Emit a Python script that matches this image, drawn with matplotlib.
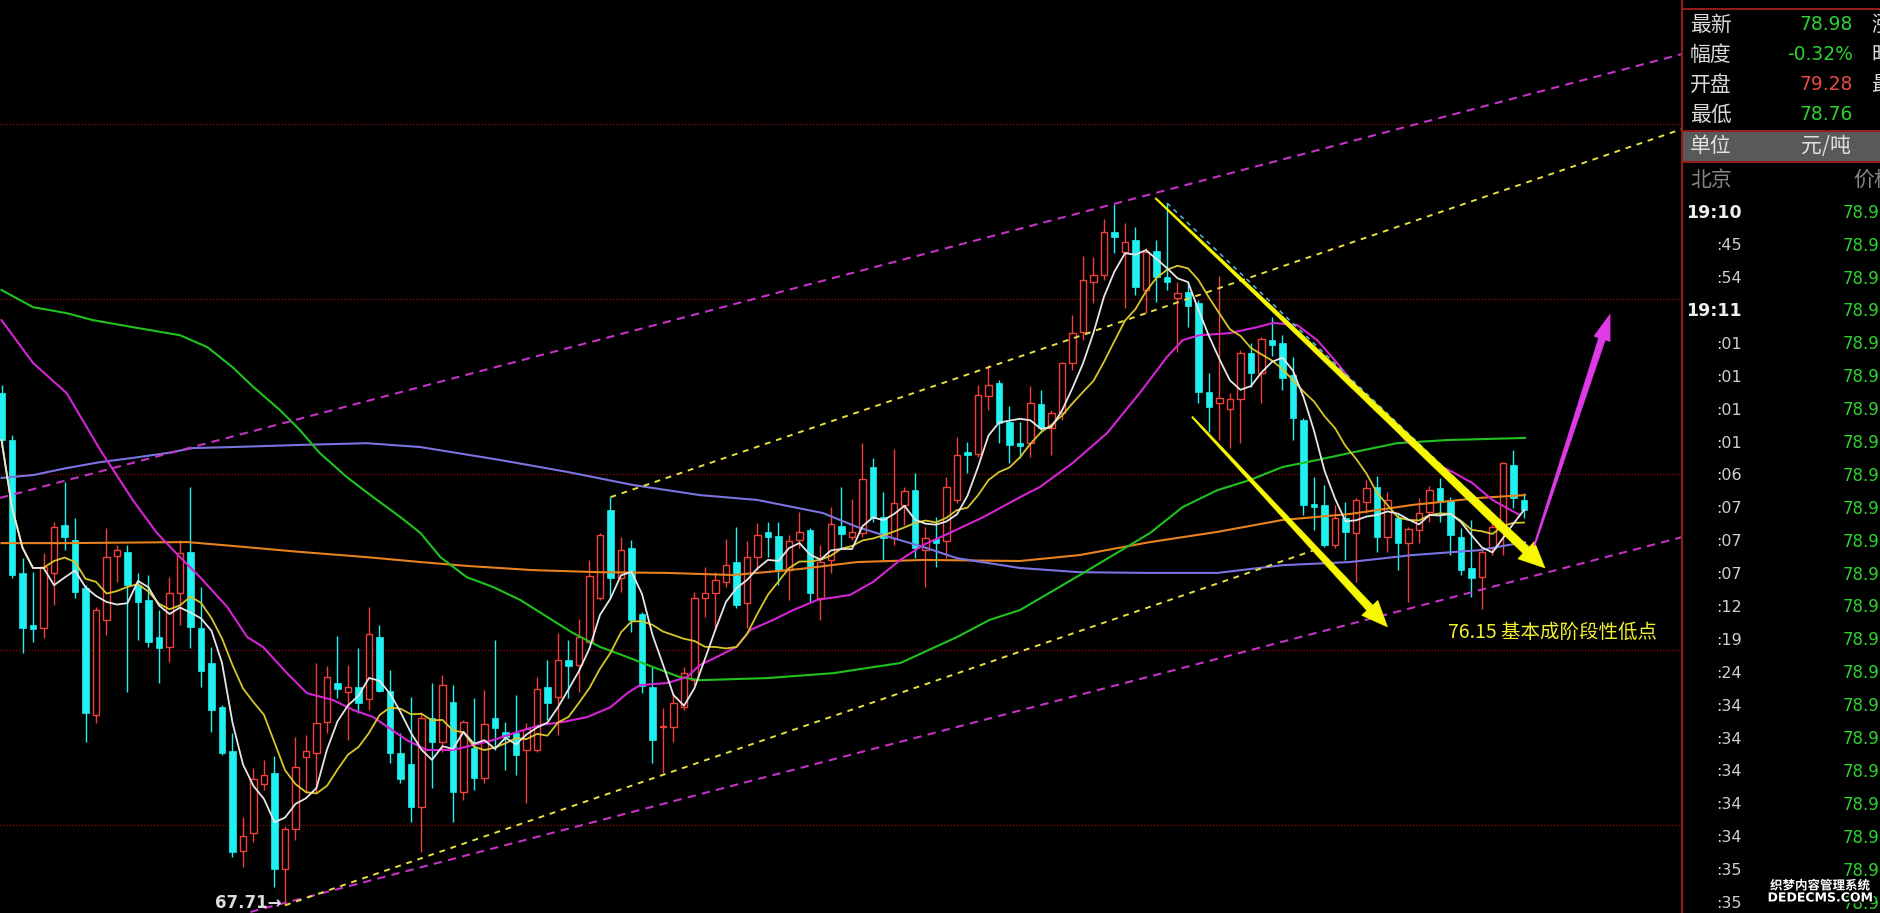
import matplotlib
matplotlib.use("Agg")
import matplotlib.pyplot as plt
import matplotlib.patheffects as pe
from matplotlib.patches import Rectangle, Polygon
import numpy as np
import pandas as pd

plt.rcParams["font.family"] = ["Noto Sans CJK SC", "DejaVu Sans"]

# ---- candle data ----
opens = [82.32, 80.98, 77.19, 75.70, 75.62, 77.19, 78.56, 78.13, 76.76, 73.14,
         75.85, 77.67, 77.79, 76.84, 76.42, 75.36, 75.08, 76.62, 77.79, 75.62,
         74.62, 73.36, 72.11, 69.26, 69.77, 71.17, 71.48, 68.74, 69.88, 71.94,
         72.05, 72.94, 74.05, 73.79, 73.94, 73.59, 75.36, 73.82, 72.05, 71.74,
         70.51, 73.05, 72.37, 73.51, 70.94, 72.20, 71.34, 73.05, 72.65, 72.62,
         72.14, 72.14, 73.94, 73.65, 74.71, 74.56, 75.22, 76.47, 78.98, 77.04,
         77.90, 76.02, 73.94, 72.79, 72.79, 73.36, 74.13, 76.47, 76.62, 76.93,
         77.50, 76.33, 77.64, 78.36, 78.24, 77.27, 78.13, 78.41, 76.47, 77.56,
         78.53, 78.21, 78.33, 80.21, 78.78, 78.18, 79.13, 79.55, 77.84, 78.16,
         78.10, 79.27, 80.64, 80.58, 82.23, 82.61, 81.50, 80.89, 80.89, 82.01,
         81.32, 81.75, 83.18, 84.06, 85.49, 85.69, 86.91, 86.34, 86.68, 85.26,
         86.37, 85.63, 85.03, 85.20, 84.89, 82.35, 82.04, 81.86, 82.15, 83.46,
         82.89, 83.83, 83.75, 82.83, 81.55, 79.15, 79.13, 77.99, 78.76, 78.33,
         79.21, 79.64, 78.21, 78.76, 78.04, 78.41, 78.93, 79.61, 79.27, 78.21,
         77.33, 77.07, 77.90, 78.56, 80.27, 79.28]
highs = [82.55, 81.12, 77.61, 77.22, 77.76, 78.64, 79.78, 78.76, 76.84, 76.22,
         78.47, 77.99, 77.99, 77.19, 77.13, 76.13, 77.07, 78.13, 79.64, 76.79,
         75.08, 73.42, 72.62, 70.23, 71.62, 71.85, 71.97, 69.97, 72.51, 72.57,
         74.62, 74.53, 75.39, 74.56, 75.05, 76.22, 75.70, 74.42, 72.62, 73.65,
         73.22, 74.05, 74.28, 73.99, 72.99, 73.62, 73.85, 75.28, 72.94, 73.71,
         72.91, 74.22, 74.71, 75.48, 75.28, 75.87, 77.56, 78.33, 79.35, 78.21,
         78.13, 76.07, 74.51, 73.34, 73.76, 74.51, 76.64, 77.36, 77.22, 78.16,
         78.50, 78.10, 78.61, 78.64, 78.64, 78.27, 78.93, 78.47, 77.99, 79.07,
         79.64, 79.30, 80.89, 80.47, 79.50, 80.72, 79.64, 80.04, 78.50, 78.78,
         79.93, 81.07, 80.92, 82.55, 83.12, 82.69, 81.95, 81.50, 82.52, 82.41,
         81.84, 83.21, 84.55, 86.23, 86.20, 87.28, 87.71, 87.17, 87.06, 86.46,
         86.68, 87.74, 85.49, 85.49, 84.97, 82.89, 85.66, 82.32, 83.55, 83.75,
         83.92, 84.49, 83.98, 83.35, 81.61, 79.93, 79.70, 79.13, 79.21, 79.33,
         79.84, 79.95, 79.50, 78.90, 78.50, 79.33, 79.67, 79.90, 79.35, 78.47,
         78.70, 77.84, 78.64, 80.35, 80.70, 79.47]
lows = [80.84, 77.04, 74.90, 75.22, 75.33, 76.27, 77.84, 76.47, 72.37, 72.91,
        75.42, 76.93, 73.79, 75.28, 75.08, 74.05, 74.65, 75.70, 75.05, 73.94,
        72.65, 72.00, 69.09, 68.80, 69.51, 71.00, 68.23, 67.71, 69.57, 70.91,
        70.91, 72.62, 73.62, 72.42, 73.19, 73.28, 73.79, 71.77, 71.20, 70.08,
        69.23, 71.05, 72.08, 70.08, 70.71, 71.00, 71.20, 72.14, 71.57, 71.43,
        70.63, 72.08, 72.99, 72.57, 73.62, 73.79, 75.19, 76.42, 76.47, 76.64,
        75.50, 73.76, 71.77, 71.48, 72.37, 73.28, 73.99, 75.93, 75.56, 76.79,
        76.19, 75.62, 77.27, 77.64, 76.84, 76.42, 77.90, 76.36, 75.85, 77.19,
        77.90, 78.13, 78.21, 78.64, 77.56, 77.99, 78.56, 77.61, 76.79, 77.36,
        77.61, 79.18, 80.04, 80.50, 81.84, 80.89, 80.32, 80.47, 80.50, 81.18,
        80.55, 81.55, 82.98, 83.83, 84.89, 85.54, 86.31, 84.75, 85.12, 84.60,
        84.92, 85.26, 83.49, 84.20, 82.04, 81.21, 80.98, 80.75, 80.89, 82.49,
        82.04, 83.38, 82.41, 80.98, 78.84, 78.41, 77.93, 77.90, 77.56, 76.93,
        78.90, 77.79, 77.79, 77.27, 76.36, 78.04, 78.64, 78.64, 77.70, 77.13,
        76.50, 76.15, 77.70, 77.70, 79.04, 78.76]
closes = [80.98, 77.13, 75.62, 75.59, 77.36, 78.50, 78.21, 76.64, 73.19, 76.13,
          77.64, 77.84, 76.84, 76.36, 75.22, 75.05, 76.62, 77.76, 75.65, 74.39,
          73.28, 72.05, 69.23, 69.69, 71.31, 71.43, 68.74, 69.88, 71.65, 72.11,
          72.91, 74.22, 73.88, 73.94, 73.48, 75.45, 73.82, 72.05, 71.31, 70.51,
          73.05, 72.37, 73.99, 70.94, 72.94, 71.34, 72.88, 72.77, 72.51, 72.00,
          72.74, 73.88, 73.48, 74.71, 74.53, 75.36, 77.10, 78.27, 77.04, 77.84,
          75.85, 73.96, 72.42, 72.82, 73.48, 74.33, 76.47, 76.62, 76.99, 77.42,
          76.27, 77.64, 78.27, 78.21, 77.27, 78.10, 78.36, 76.62, 77.50, 78.58,
          78.30, 78.36, 79.87, 78.76, 78.18, 79.18, 79.53, 77.90, 78.18, 78.04,
          79.64, 80.55, 80.55, 82.26, 82.55, 81.47, 80.84, 80.81, 82.04, 81.32,
          81.75, 83.18, 84.03, 85.54, 85.69, 86.91, 86.77, 86.63, 85.34, 86.34,
          85.63, 85.49, 85.17, 84.80, 82.35, 81.92, 82.18, 82.15, 83.46, 82.89,
          83.86, 83.69, 82.75, 81.61, 79.13, 79.07, 77.99, 78.76, 78.36, 79.27,
          79.61, 78.21, 79.27, 78.04, 78.44, 78.90, 79.55, 79.21, 78.27, 77.27,
          77.04, 77.79, 78.50, 80.32, 79.33, 78.98]

# long moving averages, read at candle positions
ma20_idx = [0, 3.0, 6.2, 9.4, 12.5, 14.8, 17.0, 18.9, 21.5, 23.4, 24.9, 27.2, 29.1, 31.6,
            33.5, 35.4, 38.6, 40.5, 43.0, 44.9, 46.8, 49.1, 51.3, 53.5, 55.8, 58.0, 59.6,
            60.8, 63.4, 65.3, 66.5, 68.1, 70.0, 71.3, 73.5, 75.4, 77.7, 80.8, 83.0, 85.6,
            87.8, 90.3, 93.5, 97.0, 98.9, 102.0, 105.3, 108.4, 111.0, 112.5, 114.1, 117.0,
            119.6, 121.1, 123.4, 125.3, 127.2, 128.7, 131.3, 133.7, 136.3, 138.2, 140.1,
            142.0, 144.6]
ma20_val = [84.40, 83.18, 82.32, 80.70, 79.27, 78.33, 77.64, 77.07, 76.22, 75.36, 75.08,
            74.33, 73.76, 73.56, 73.28, 73.08, 72.42, 72.14, 72.14, 72.28, 72.42, 72.65,
            72.85, 72.94, 73.08, 73.36, 73.76, 73.99, 74.05, 74.22, 74.56, 74.79, 75.08,
            75.56, 75.85, 76.13, 76.42, 76.56, 76.93, 77.56, 77.99, 78.33, 78.78, 79.35,
            79.64, 80.32, 81.18, 82.32, 83.35, 83.83, 83.97, 84.03, 84.20, 84.32, 84.26,
            83.83, 83.18, 82.61, 81.84, 80.98, 80.35, 80.07, 79.75, 79.27, 78.84]
ma60_idx = [0, 3.0, 6.2, 8.7, 12.5, 17.0, 19.6, 22.0, 24.0, 26.5, 28.4, 30.3, 32.9, 35.4,
            38.0, 39.9, 41.8, 44.3, 46.8, 49.4, 52.0, 54.4, 57.0, 59.6, 62.0, 64.6, 66.5,
            72.9, 79.2, 85.6, 91.0, 94.1, 97.0, 102.7, 109.4, 112.5, 115.8, 118.9, 122.0,
            125.3, 128.4, 132.9, 137.7, 145.1]
ma60_val = [85.26, 84.77, 84.60, 84.40, 84.20, 83.97, 83.63, 83.06, 82.49, 81.84, 81.27,
            80.61, 79.92, 79.35, 78.78, 78.33, 77.64, 77.07, 76.79, 76.42, 75.93, 75.48,
            75.08, 74.79, 74.51, 74.22, 74.13, 74.19, 74.33, 74.62, 75.36, 75.85, 76.13,
            77.13, 78.33, 79.07, 79.55, 79.84, 80.21, 80.41, 80.61, 80.89, 80.98, 81.04]
ma120_idx = [0, 3.0, 6.2, 9.4, 12.5, 15.8, 18.2, 22.0, 28.4, 34.8, 39.9, 47.5, 53.9, 60.1,
             66.5, 72.0, 78.2, 81.5, 84.6, 87.8, 91.0, 97.0, 102.7, 109.4, 115.8, 122.0,
             128.4, 134.4, 140.8, 145.1]
ma120_val = [79.90, 79.98, 80.18, 80.35, 80.47, 80.61, 80.75, 80.78, 80.84, 80.89, 80.78,
             80.41, 80.07, 79.70, 79.41, 79.27, 78.90, 78.50, 78.21, 77.93, 77.61, 77.33,
             77.21, 77.19, 77.19, 77.41, 77.50, 77.70, 77.84, 78.07]
ma250_idx = [0, 6.2, 17.7, 22.0, 28.4, 34.8, 39.9, 44.3, 50.6, 57.0, 63.4, 69.7, 76.0, 81.5,
             87.8, 97.0, 102.7, 109.4, 115.8, 122.0, 128.4, 134.4, 140.8, 145.1]
ma250_val = [78.04, 78.04, 78.07, 77.96, 77.79, 77.64, 77.50, 77.39, 77.27, 77.21, 77.19,
             77.13, 77.30, 77.50, 77.56, 77.53, 77.70, 78.07, 78.36, 78.70, 78.87, 79.13,
             79.33, 79.41]

grid_levels = [70, 75, 80, 85, 90]

# hand-drawn lines: (candle position, price)
channel_upper = [(-0.14, 79.33), (160.05, 91.99)]
channel_lower = [(23.7, 67.52), (160.05, 78.21)]
inner_upper = [(58.0, 79.35), (160.05, 89.85)]
inner_lower = [(27.0, 67.71), (125.6, 77.90)]
cyan_trend = [(111.0, 87.74), (141.8, 78.93)]
arrow_big = [(109.9, 87.88), (147.0, 77.33)]
arrow_small = [(113.4, 81.64), (132.0, 75.65)]
arrow_up = [(146.0, 77.98), (153.2, 84.57)]

low_label = "67.71→"
note_text = "76.15 基本成阶段性低点"
note_pos = (137.8, 75.50)

# quote panel
quote_labels = ["最新", "幅度", "开盘", "最低"]
quote_values = ["78.98", "-0.32%", "79.28", "78.76"]
quote_colors = ["#2fd02f", "#2fd02f", "#e84a46", "#2fd02f"]
quote_side = ["涨跌", "昨收", "最高", ""]
tick_times = ["19:10", ":45", ":54", "19:11", ":01", ":01", ":01", ":01", ":06", ":07", ":07",
              ":07", ":12", ":19", ":24", ":34", ":34", ":34", ":34", ":34", ":35", ":35"]
tick_prices = ["78.98"] * len(tick_times)

RED = "#f0403a"
CYAN = "#1ff0f0"

df = pd.DataFrame({"open": opens, "high": highs, "low": lows, "close": closes})
df["ma5"] = df["close"].rolling(5, min_periods=1).mean()
df["ma10"] = df["close"].rolling(10, min_periods=1).mean()
x = np.arange(len(df))

W, H, DPI = 1880, 913, 100
PANEL_X = 1682
fig = plt.figure(figsize=(W / DPI, H / DPI), dpi=DPI, facecolor="black")
ax = fig.add_axes([0, 0, PANEL_X / W, 1])
ax.set_facecolor("black")
ax.set_xlim(-0.143, 160.05)
ax.set_ylim(67.49, 93.531)
ax.axis("off")

for lv in grid_levels:
    ax.axhline(lv, color="#8a0e0e", lw=0.9, ls=(0, (1, 1.5)), zorder=1)

# candles
bw = 0.66
for i, r in df.iterrows():
    up = r["close"] >= r["open"]
    col = RED if up else CYAN
    ax.vlines(i, r["low"], r["high"], color=col, lw=1.0, zorder=2)
    bottom = min(r["open"], r["close"])
    height = max(abs(r["close"] - r["open"]), 0.04)
    if up:
        ax.add_patch(Rectangle((i - bw / 2, bottom), bw, height, facecolor="black",
                               edgecolor=col, lw=1.0, zorder=3))
    else:
        ax.add_patch(Rectangle((i - bw / 2, bottom), bw, height, facecolor=col,
                               edgecolor=col, lw=0.5, zorder=3))

# moving averages
ax.plot(ma250_idx, ma250_val, color="#e8821e", lw=1.5, zorder=4)
ax.plot(ma120_idx, ma120_val, color="#7b74e0", lw=1.5, zorder=4)
ax.plot(ma60_idx, ma60_val, color="#1fc21f", lw=1.5, zorder=4)
ax.plot(ma20_idx, ma20_val, color="#d424d4", lw=1.5, zorder=4)
ax.plot(x, df["ma10"], color="#d8c628", lw=1.3, zorder=4)
ax.plot(x, df["ma5"], color="#e6e6e6", lw=1.3, zorder=4)

# channel lines
def seg(pts, **kw):
    ax.plot([p[0] for p in pts], [p[1] for p in pts], **kw)

seg(channel_upper, color="#c632c6", lw=1.5, ls=(0, (4, 3)), zorder=5)
seg(channel_lower, color="#c632c6", lw=1.5, ls=(0, (4, 3)), zorder=5)
seg(inner_upper, color="#e6e040", lw=1.4, ls=(0, (3, 3)), zorder=5)
seg(inner_lower, color="#e6e040", lw=1.4, ls=(0, (3, 3)), zorder=5)
seg(cyan_trend, color="#58b8d8", lw=1.1, ls=(0, (3, 3)), zorder=5)


def taper_arrow(start, end, w0, w1, head_w, head_len, color):
    p0 = ax.transData.transform(start)
    p1 = ax.transData.transform(end)
    d = p1 - p0
    u = d / np.hypot(*d)
    n = np.array([-u[1], u[0]])
    base = p1 - u * head_len
    pts = [p0 + n * w0 / 2, base + n * w1 / 2, base + n * head_w / 2, p1,
           base - n * head_w / 2, base - n * w1 / 2, p0 - n * w0 / 2]
    pts = ax.transData.inverted().transform(np.array(pts))
    ax.add_patch(Polygon(pts, closed=True, facecolor=color, edgecolor=color,
                         lw=0.4, zorder=7))


taper_arrow(arrow_big[0], arrow_big[1], 1.5, 9, 24, 26, "#f8f800")
taper_arrow(arrow_small[0], arrow_small[1], 1.5, 8, 22, 26, "#f8f800")
taper_arrow(arrow_up[0], arrow_up[1], 1.5, 7, 17, 26, "#e03ae8")

ax.annotate(low_label, xy=(27, min(lows)), xytext=(-3, 2), textcoords="offset pixels",
            ha="right", va="center", color="#dcdcdc", fontsize=12, fontweight="bold",
            family="DejaVu Sans", zorder=8)
ax.text(note_pos[0], note_pos[1], note_text, ha="left", va="center", color="#f2f030",
        fontsize=14, zorder=8)

# ---- right quote panel (pixel coordinates) ----
pax = fig.add_axes([0, 0, 1, 1])
pax.set_xlim(0, W)
pax.set_ylim(H, 0)
pax.axis("off")
pax.patch.set_alpha(0)

border = "#9a1c1c"
pax.plot([PANEL_X, PANEL_X], [0, H], color=border, lw=1.4)
pax.plot([PANEL_X, W], [9, 9], color=border, lw=1.4)
pax.add_patch(Rectangle((PANEL_X + 1, 131), W - PANEL_X, 31, facecolor="#595959",
                        edgecolor="none"))
pax.plot([PANEL_X, W], [131, 131], color=border, lw=1.4)
pax.plot([PANEL_X, W], [162, 162], color=border, lw=1.4)

for k, (lab, val, vc, side) in enumerate(zip(quote_labels, quote_values, quote_colors, quote_side)):
    yy = 25 + 30 * k
    pax.text(1690, yy, lab, ha="left", va="center", color="#dadada", fontsize=15)
    pax.text(1853, yy, val, ha="right", va="center", color=vc, fontsize=13.5,
             family="DejaVu Sans")
    if side:
        pax.text(1871, yy, side, ha="left", va="center", color="#dadada", fontsize=15)

pax.text(1690, 146, "单位", ha="left", va="center", color="#e2e2e2", fontsize=15)
pax.text(1826, 146, "元/吨", ha="center", va="center", color="#e2e2e2", fontsize=15)
pax.text(1690, 180, "北京", ha="left", va="center", color="#858585", fontsize=15)
pax.text(1853, 180, "价格", ha="left", va="center", color="#858585", fontsize=15)

for k, (t, p) in enumerate(zip(tick_times, tick_prices)):
    yy = 212.7 + 32.9 * k
    major = not t.startswith(":")
    pax.text(1742, yy, t, ha="right", va="center", family="DejaVu Sans",
             color="#eeeeee" if major else "#cfcfcf",
             fontsize=12.5 if major else 11.5, fontweight="bold" if major else "normal")
    pax.text(1843, yy, p, ha="left", va="center", color="#2fd02f", fontsize=12,
             family="DejaVu Sans")

wm = [pe.withStroke(linewidth=2.5, foreground="black")]
pax.text(1820, 886, "织梦内容管理系统", ha="center", va="center", color="white",
         fontsize=9, fontweight="bold", path_effects=wm)
pax.text(1820, 898, "DEDECMS.COM", ha="center", va="center", color="white",
         fontsize=9, fontweight="bold", family="DejaVu Sans", path_effects=wm)

fig.savefig("out.png", dpi=DPI, facecolor=fig.get_facecolor())
